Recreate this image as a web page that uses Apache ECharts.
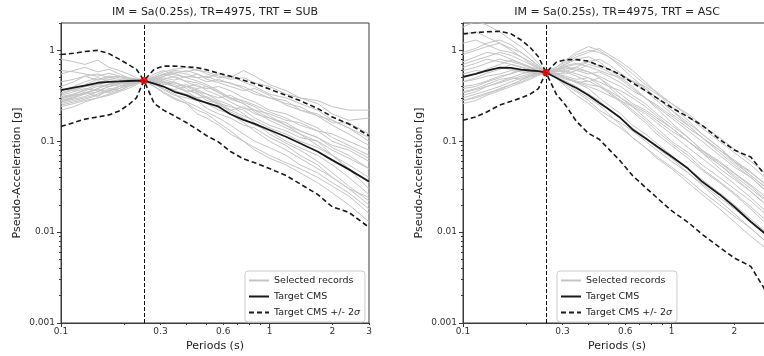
<!DOCTYPE html>
<html><head><meta charset="utf-8">
<script src="https://cdn.jsdelivr.net/npm/echarts@6/dist/echarts.min.js"></script>
<style>html,body{margin:0;padding:0;background:#fff}#c{width:764px;height:356px}</style>
</head><body><div id="c"></div>
<script>
const periods = [0.1,0.115,0.13,0.15,0.17,0.19,0.21,0.23,0.25,0.28,0.31,0.35,0.4,0.45,0.5,0.57,0.65,0.75,0.85,1.0,1.2,1.4,1.7,2.0,2.4,3.0];
const condPeriod = 0.25;
const titles = ['IM = Sa(0.25s), TR=4975, TRT = SUB', 'IM = Sa(0.25s), TR=4975, TRT = ASC'];
const legendNames = ['Selected records', 'Target CMS', 'Target CMS +/- 2σ'];

const subTarget = 0.465;
const subCMS = [0.365,0.39,0.41,0.44,0.45,0.455,0.46,0.463,0.465,0.43,0.40,0.35,0.32,0.285,0.265,0.24,0.198,0.172,0.155,0.133,0.112,0.095,0.077,0.062,0.049,0.036];
const subUpper = [0.9,0.93,0.97,1.0,0.92,0.8,0.7,0.62,0.465,0.62,0.67,0.67,0.66,0.645,0.61,0.56,0.52,0.47,0.43,0.375,0.32,0.28,0.23,0.185,0.155,0.115];
const subLower = [0.145,0.16,0.175,0.185,0.195,0.215,0.25,0.3,0.465,0.26,0.22,0.19,0.16,0.135,0.115,0.098,0.077,0.064,0.058,0.05,0.042,0.034,0.026,0.019,0.0165,0.0113];
const subRecords = [
 [0.30,0.33,0.36,0.40,0.42,0.47,0.44,0.46,0.465,0.50,0.55,0.60,0.58,0.62,0.55,0.50,0.52,0.45,0.40,0.33,0.30,0.26,0.22,0.17,0.14,0.10],
 [0.26,0.28,0.30,0.33,0.38,0.36,0.40,0.44,0.465,0.45,0.40,0.36,0.33,0.30,0.31,0.27,0.22,0.19,0.17,0.14,0.12,0.10,0.085,0.07,0.055,0.04],
 [0.80,0.75,0.70,0.78,0.65,0.60,0.55,0.50,0.465,0.48,0.52,0.56,0.50,0.46,0.42,0.36,0.30,0.26,0.21,0.17,0.14,0.12,0.09,0.07,0.05,0.035],
 [0.28,0.30,0.35,0.31,0.37,0.40,0.42,0.45,0.465,0.42,0.38,0.33,0.27,0.24,0.21,0.18,0.15,0.12,0.10,0.085,0.07,0.055,0.045,0.035,0.027,0.018],
 [0.34,0.38,0.42,0.48,0.52,0.50,0.48,0.47,0.465,0.52,0.58,0.62,0.65,0.60,0.58,0.52,0.48,0.50,0.44,0.40,0.33,0.30,0.28,0.24,0.22,0.22],
 [0.24,0.26,0.28,0.30,0.33,0.36,0.40,0.43,0.465,0.44,0.46,0.40,0.35,0.37,0.33,0.28,0.25,0.20,0.16,0.12,0.095,0.08,0.06,0.045,0.032,0.022],
 [0.55,0.60,0.65,0.58,0.62,0.55,0.50,0.48,0.465,0.40,0.35,0.30,0.26,0.22,0.20,0.16,0.13,0.10,0.085,0.07,0.058,0.05,0.04,0.032,0.025,0.016],
 [0.30,0.32,0.34,0.37,0.35,0.40,0.44,0.46,0.465,0.50,0.48,0.52,0.45,0.40,0.38,0.40,0.36,0.30,0.27,0.22,0.20,0.17,0.14,0.11,0.09,0.07],
 [0.36,0.40,0.45,0.50,0.46,0.44,0.45,0.46,0.465,0.47,0.43,0.40,0.42,0.36,0.30,0.26,0.24,0.22,0.18,0.15,0.13,0.11,0.10,0.08,0.065,0.05],
 [0.27,0.29,0.31,0.35,0.40,0.42,0.45,0.47,0.465,0.55,0.60,0.54,0.50,0.55,0.48,0.44,0.40,0.36,0.38,0.32,0.25,0.22,0.20,0.16,0.16,0.12],
 [0.40,0.45,0.52,0.55,0.50,0.48,0.46,0.47,0.465,0.43,0.37,0.32,0.30,0.28,0.23,0.20,0.18,0.15,0.14,0.11,0.09,0.07,0.055,0.04,0.03,0.02],
 [0.22,0.24,0.27,0.30,0.32,0.35,0.38,0.42,0.465,0.46,0.44,0.45,0.38,0.33,0.30,0.25,0.22,0.24,0.20,0.18,0.15,0.12,0.10,0.07,0.05,0.03],
 [0.32,0.35,0.38,0.36,0.40,0.43,0.46,0.45,0.465,0.48,0.50,0.47,0.52,0.50,0.45,0.48,0.43,0.40,0.35,0.30,0.28,0.22,0.19,0.15,0.12,0.09],
 [0.29,0.32,0.33,0.38,0.42,0.45,0.43,0.44,0.465,0.40,0.34,0.29,0.26,0.20,0.18,0.15,0.12,0.10,0.08,0.065,0.055,0.045,0.035,0.027,0.02,0.013],
 [0.45,0.48,0.52,0.47,0.50,0.52,0.50,0.48,0.465,0.50,0.54,0.58,0.55,0.50,0.52,0.46,0.44,0.38,0.33,0.30,0.26,0.24,0.19,0.17,0.14,0.11],
 [0.25,0.27,0.29,0.32,0.36,0.38,0.41,0.44,0.465,0.45,0.42,0.44,0.40,0.42,0.36,0.32,0.27,0.23,0.22,0.18,0.16,0.13,0.11,0.09,0.08,0.06],
 [0.31,0.33,0.37,0.42,0.40,0.46,0.48,0.47,0.465,0.44,0.40,0.37,0.40,0.35,0.33,0.30,0.32,0.27,0.24,0.19,0.15,0.13,0.11,0.085,0.07,0.05],
 [0.38,0.36,0.40,0.44,0.48,0.46,0.45,0.46,0.465,0.49,0.46,0.42,0.36,0.34,0.28,0.26,0.21,0.18,0.15,0.13,0.10,0.085,0.07,0.055,0.04,0.026],
 [0.27,0.30,0.33,0.35,0.34,0.38,0.42,0.45,0.465,0.47,0.52,0.56,0.60,0.55,0.50,0.55,0.50,0.60,0.52,0.42,0.36,0.30,0.26,0.20,0.17,0.18],
 [0.33,0.37,0.40,0.42,0.45,0.43,0.46,0.46,0.465,0.42,0.45,0.40,0.35,0.30,0.26,0.22,0.20,0.16,0.13,0.10,0.08,0.065,0.05,0.04,0.03,0.024],
 [0.60,0.58,0.55,0.52,0.56,0.52,0.49,0.47,0.465,0.46,0.48,0.44,0.40,0.38,0.40,0.35,0.30,0.28,0.25,0.21,0.18,0.15,0.13,0.10,0.085,0.065],
 [0.28,0.31,0.34,0.38,0.43,0.40,0.43,0.45,0.465,0.50,0.55,0.50,0.46,0.44,0.40,0.34,0.29,0.26,0.22,0.20,0.17,0.16,0.13,0.12,0.10,0.08]
];

const ascTarget = 0.57;
const ascCMS = [0.51,0.55,0.6,0.645,0.64,0.615,0.6,0.59,0.57,0.5,0.44,0.385,0.32,0.265,0.225,0.18,0.135,0.108,0.088,0.068,0.05,0.036,0.026,0.019,0.013,0.0085];
const ascUpper = [1.52,1.57,1.6,1.62,1.52,1.3,1.08,0.85,0.57,0.74,0.79,0.79,0.76,0.68,0.62,0.54,0.44,0.36,0.30,0.235,0.185,0.15,0.105,0.08,0.067,0.035];
const ascLower = [0.17,0.185,0.21,0.25,0.275,0.3,0.33,0.38,0.57,0.33,0.25,0.165,0.122,0.105,0.082,0.06,0.042,0.031,0.024,0.0172,0.0128,0.0095,0.0068,0.0052,0.0042,0.0018];
const ascRecords = [
 [0.90,1.0,1.1,1.2,1.05,0.95,0.80,0.68,0.57,0.62,0.70,0.80,0.85,0.75,0.62,0.50,0.40,0.30,0.23,0.16,0.11,0.08,0.055,0.04,0.028,0.018],
 [0.35,0.38,0.42,0.48,0.50,0.55,0.58,0.57,0.57,0.55,0.50,0.44,0.38,0.30,0.25,0.20,0.15,0.12,0.095,0.07,0.05,0.038,0.027,0.02,0.014,0.009],
 [1.8,2.1,1.9,1.6,1.3,1.1,0.9,0.72,0.57,0.50,0.46,0.40,0.33,0.28,0.22,0.18,0.14,0.11,0.085,0.065,0.045,0.033,0.022,0.016,0.011,0.007],
 [0.45,0.50,0.56,0.62,0.70,0.65,0.60,0.58,0.57,0.65,0.75,0.90,1.0,0.95,0.85,0.70,0.55,0.42,0.35,0.26,0.19,0.14,0.10,0.075,0.055,0.035],
 [0.28,0.30,0.33,0.38,0.42,0.45,0.50,0.54,0.57,0.60,0.58,0.52,0.45,0.50,0.42,0.33,0.26,0.22,0.18,0.14,0.10,0.075,0.055,0.042,0.03,0.02],
 [0.65,0.72,0.80,0.75,0.70,0.66,0.62,0.60,0.57,0.52,0.45,0.36,0.30,0.25,0.20,0.15,0.11,0.085,0.065,0.05,0.035,0.026,0.018,0.013,0.009,0.006],
 [0.50,0.55,0.62,0.70,0.78,0.72,0.65,0.60,0.57,0.60,0.68,0.72,0.66,0.60,0.55,0.50,0.46,0.38,0.30,0.22,0.16,0.12,0.085,0.06,0.045,0.03],
 [0.32,0.35,0.40,0.44,0.48,0.52,0.55,0.56,0.57,0.58,0.62,0.65,0.58,0.50,0.40,0.30,0.24,0.18,0.14,0.10,0.075,0.055,0.04,0.03,0.022,0.014],
 [1.2,1.3,1.15,1.0,0.95,0.85,0.75,0.65,0.57,0.55,0.52,0.48,0.50,0.45,0.40,0.36,0.30,0.24,0.19,0.14,0.10,0.075,0.05,0.038,0.028,0.018],
 [0.40,0.42,0.46,0.52,0.55,0.60,0.62,0.60,0.57,0.62,0.72,0.85,0.95,1.05,0.90,0.75,0.60,0.45,0.34,0.24,0.17,0.12,0.085,0.06,0.042,0.028],
 [0.55,0.60,0.58,0.65,0.62,0.60,0.58,0.58,0.57,0.50,0.42,0.35,0.28,0.22,0.19,0.16,0.13,0.10,0.08,0.06,0.045,0.034,0.024,0.018,0.013,0.009],
 [0.30,0.33,0.36,0.40,0.45,0.50,0.53,0.56,0.57,0.56,0.55,0.60,0.70,0.65,0.58,0.48,0.38,0.30,0.24,0.18,0.13,0.10,0.07,0.052,0.04,0.025],
 [0.75,0.85,0.95,0.90,0.80,0.72,0.66,0.62,0.57,0.58,0.60,0.55,0.50,0.42,0.35,0.28,0.22,0.17,0.13,0.095,0.07,0.05,0.036,0.027,0.019,0.012],
 [0.26,0.28,0.32,0.36,0.40,0.44,0.48,0.53,0.57,0.65,0.78,0.95,1.1,1.0,0.85,0.66,0.50,0.38,0.30,0.22,0.15,0.11,0.08,0.058,0.042,0.028],
 [0.60,0.65,0.72,0.80,0.75,0.70,0.64,0.60,0.57,0.53,0.48,0.45,0.40,0.36,0.32,0.28,0.24,0.20,0.16,0.12,0.085,0.065,0.046,0.034,0.024,0.015],
 [0.38,0.40,0.45,0.50,0.56,0.62,0.60,0.58,0.57,0.60,0.64,0.60,0.55,0.58,0.52,0.44,0.36,0.30,0.25,0.19,0.14,0.11,0.08,0.062,0.046,0.03],
 [1.5,1.6,1.4,1.2,1.0,0.85,0.72,0.64,0.57,0.50,0.40,0.32,0.26,0.21,0.17,0.14,0.11,0.085,0.068,0.052,0.038,0.028,0.02,0.015,0.011,0.007],
 [0.45,0.48,0.52,0.55,0.60,0.58,0.56,0.57,0.57,0.62,0.66,0.70,0.75,0.80,0.70,0.56,0.45,0.36,0.28,0.20,0.15,0.11,0.075,0.055,0.04,0.026],
 [0.34,0.37,0.40,0.45,0.50,0.48,0.52,0.55,0.57,0.55,0.50,0.46,0.42,0.40,0.36,0.30,0.25,0.21,0.17,0.13,0.1,0.078,0.058,0.044,0.032,0.02],
 [0.95,1.05,1.2,1.3,1.15,0.95,0.80,0.66,0.57,0.60,0.66,0.62,0.58,0.52,0.46,0.40,0.32,0.26,0.20,0.15,0.11,0.08,0.06,0.045,0.033,0.022],
 [0.28,0.31,0.34,0.37,0.42,0.47,0.52,0.55,0.57,0.54,0.58,0.66,0.74,0.68,0.62,0.54,0.46,0.40,0.33,0.26,0.2,0.15,0.11,0.082,0.06,0.04],
 [0.70,0.78,0.85,0.95,0.88,0.78,0.70,0.63,0.57,0.55,0.50,0.44,0.46,0.40,0.34,0.27,0.21,0.16,0.12,0.09,0.065,0.048,0.035,0.026,0.018,0.011]
];

const xLabelTicks = [0.1,0.3,0.6,1,2,3];
const xMajorTicks = [0.1,1];
const xMinorTicks = [0.2,0.3,0.4,0.5,0.6,0.7,0.8,0.9,2,3];
const yMajorTicks = [0.001,0.01,0.1,1];
const yMinorTicks = [0.002,0.003,0.004,0.005,0.006,0.007,0.008,0.009,0.02,0.03,0.04,0.05,0.06,0.07,0.08,0.09,0.2,0.3,0.4,0.5,0.6,0.7,0.8,0.9,2];
const xRange = [0.1, 3];
const yRange = [0.001, 2];

const FONT = 'DejaVu Sans';
const panels = [
  {target: subTarget, cms: subCMS, upper: subUpper, lower: subLower, records: subRecords, left: 61, legendLeft: 245},
  {target: ascTarget, cms: ascCMS, upper: ascUpper, lower: ascLower, records: ascRecords, left: 463, legendLeft: 557}
];
const fmt = v => String(+(+v).toPrecision(4));

const grids = [], xAxes = [], yAxes = [], series = [], legends = [], graphics = [];
panels.forEach((p, k) => {
  grids.push({left: p.left, top: 23, width: 308, height: 300, show: true, borderColor: '#3a3a3a', borderWidth: 1,
    backgroundColor: 'transparent', containLabel: false, outerBoundsMode: 'none'});
  xAxes.push({
    type: 'log', logBase: 10, gridIndex: k, min: xRange[0], max: xRange[1],
    name: 'Periods (s)', nameLocation: 'middle', nameGap: 17,
    nameTextStyle: {fontFamily: FONT, fontSize: 11, color: '#222'},
    axisLine: {show: true, lineStyle: {color: '#3a3a3a', width: 1}},
    axisTick: {show: true, length: 4, customValues: xMajorTicks, lineStyle: {color: '#3a3a3a'}},
    axisLabel: {customValues: xLabelTicks, formatter: fmt, margin: 4, fontFamily: FONT, fontSize: 9, color: '#333'},
    splitLine: {show: false}, minorTick: {show: false}
  });
  xAxes.push({
    type: 'log', logBase: 10, gridIndex: k, min: xRange[0], max: xRange[1], position: 'bottom',
    axisLine: {show: false}, axisLabel: {show: false}, splitLine: {show: false},
    axisTick: {show: true, length: 2, customValues: xMinorTicks, lineStyle: {color: '#3a3a3a'}}
  });
  yAxes.push({
    type: 'log', logBase: 10, gridIndex: k, min: yRange[0], max: yRange[1],
    name: 'Pseudo-Acceleration [g]', nameLocation: 'middle', nameGap: 38,
    nameTextStyle: {fontFamily: FONT, fontSize: 11, color: '#222'},
    axisLine: {show: true, lineStyle: {color: '#3a3a3a', width: 1}},
    axisTick: {show: true, length: 4, customValues: yMajorTicks, lineStyle: {color: '#3a3a3a'}},
    axisLabel: {customValues: yMajorTicks, formatter: fmt, margin: 6, fontFamily: FONT, fontSize: 9, color: '#333'},
    splitLine: {show: false}, minorTick: {show: false}
  });
  yAxes.push({
    type: 'log', logBase: 10, gridIndex: k, min: yRange[0], max: yRange[1], position: 'left',
    axisLine: {show: false}, axisLabel: {show: false}, splitLine: {show: false},
    axisTick: {show: true, length: 2, customValues: yMinorTicks, lineStyle: {color: '#3a3a3a'}}
  });
  const xi = k * 2, yi = k * 2;
  const pairs = vals => periods.map((t, i) => [t, vals[i]]);
  p.records.forEach(r => series.push({
    type: 'line', name: legendNames[0], xAxisIndex: xi, yAxisIndex: yi, data: pairs(r),
    symbol: 'none', silent: true, lineStyle: {color: '#c4c4c4', width: 1}, itemStyle: {color: '#c4c4c4'}, z: 1
  }));
  series.push({
    type: 'line', name: legendNames[1], xAxisIndex: xi, yAxisIndex: yi, data: pairs(p.cms),
    symbol: 'none', lineStyle: {color: '#1a1a1a', width: 1.8}, itemStyle: {color: '#1a1a1a'}, z: 3,
    markLine: {silent: true, symbol: 'none', label: {show: false},
      lineStyle: {color: '#111', width: 1, type: [4, 2]}, data: [{xAxis: condPeriod}]}
  });
  [p.upper, p.lower].forEach(b => series.push({
    type: 'line', name: legendNames[2], xAxisIndex: xi, yAxisIndex: yi, data: pairs(b),
    symbol: 'none', lineStyle: {color: '#1a1a1a', width: 1.6, type: [5, 3]}, itemStyle: {color: '#1a1a1a'}, z: 3
  }));
  series.push({
    type: 'scatter', xAxisIndex: xi, yAxisIndex: yi, data: [[condPeriod, p.target]],
    symbol: 'circle', symbolSize: 7, itemStyle: {color: '#ff0000', borderColor: '#aa0000', borderWidth: 0.5}, z: 5, silent: true
  });
  legends.push({
    data: legendNames, orient: 'vertical', left: p.legendLeft, top: 271,
    backgroundColor: 'rgba(255,255,255,0.85)', borderColor: '#cccccc', borderWidth: 1, borderRadius: 3,
    padding: [3, 5, 3, 3], itemGap: 3, itemWidth: 20, itemHeight: 10,
    itemStyle: {opacity: 0},
    formatter: n => n.replace('σ', '{i|σ}'),
    textStyle: {fontFamily: FONT, fontSize: 9.5, color: '#222', lineHeight: 13,
      rich: {i: {fontFamily: FONT, fontStyle: 'italic', fontSize: 9.5, color: '#222'}}},
    selectedMode: false
  });
  graphics.push({type: 'text', x: p.left + 154, y: 12, style: {text: titles[k], font: '11px "DejaVu Sans"', fill: '#222', textAlign: 'center', textVerticalAlign: 'middle'}});
});

const chart = echarts.init(document.getElementById('c'), null, {renderer: 'canvas'});
chart.setOption({
  animation: false, backgroundColor: '#ffffff',
  grid: grids, xAxis: xAxes, yAxis: yAxes, series: series, legend: legends, graphic: graphics
});
</script></body></html>
